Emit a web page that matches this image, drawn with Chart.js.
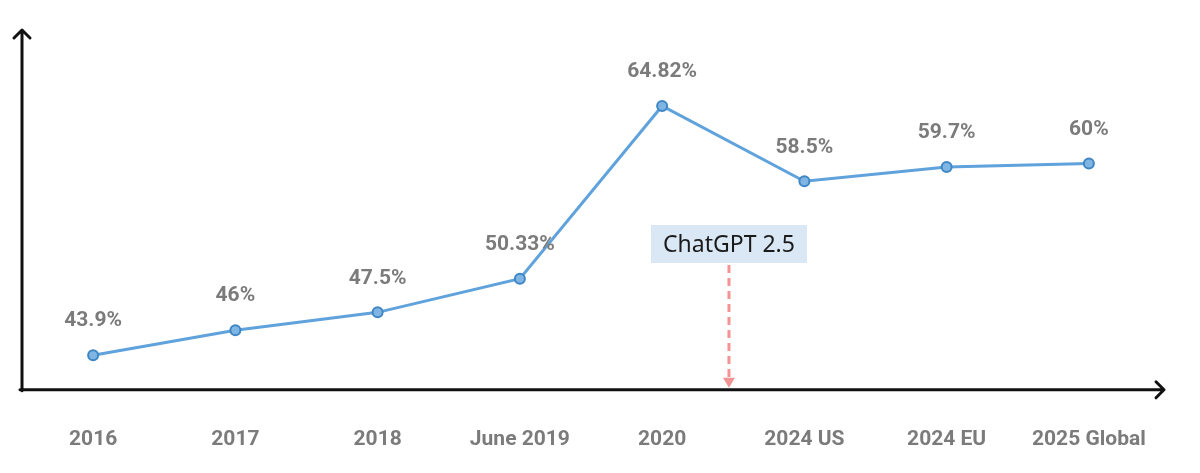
<!DOCTYPE html>
<html lang="en">
<head>
  <meta charset="UTF-8">
  <title>Rate by year</title>
  <style>
    html, body { margin: 0; padding: 0; background: #fff; }
    #wrap { width: 1200px; height: 473px; }
  </style>
</head>
<body>
  <div id="wrap"><canvas id="chartCanvas" width="1200" height="473"></canvas></div>

  <script src="https://cdn.jsdelivr.net/npm/chart.js"></script>
  <script>
    const categories = ['2016', '2017', '2018', 'June 2019', '2020', '2024 US', '2024 EU', '2025 Global'];
    const rates = [43.9, 46, 47.5, 50.33, 64.82, 58.5, 59.7, 60];
    const rateLabels = ['43.9%', '46%', '47.5%', '50.33%', '64.82%', '58.5%', '59.7%', '60%'];
    const markerText = 'ChatGPT 2.5';
    const markerPos = 4.47; // between 2020 and 2024 US

    // axes with arrows, value labels and the ChatGPT marker
    const extras = {
      id: 'extras',
      afterDatasetsDraw(chart) {
        const ctx = chart.ctx;
        const a = chart.chartArea;
        const x = chart.scales.x;
        ctx.save();

        // value labels
        ctx.font = 'bold 21px Roboto';
        ctx.fillStyle = '#7b7b7b';
        ctx.textAlign = 'center';
        ctx.textBaseline = 'middle';
        const meta = chart.getDatasetMeta(0);
        meta.data.forEach((p, i) => {
          ctx.fillText(rateLabels[i], p.x, p.y - 34);
        });

        // axes
        ctx.strokeStyle = '#111';
        ctx.lineWidth = 3;
        ctx.lineCap = 'round';
        ctx.lineJoin = 'round';
        ctx.beginPath();
        ctx.moveTo(a.left, a.bottom + 1);
        ctx.lineTo(a.left, a.top);
        ctx.moveTo(a.left - 8, a.top + 8);
        ctx.lineTo(a.left, a.top);
        ctx.lineTo(a.left + 8, a.top + 8);
        ctx.moveTo(a.left - 2, a.bottom);
        ctx.lineTo(a.right + 4, a.bottom);
        ctx.moveTo(a.right - 4, a.bottom - 8);
        ctx.lineTo(a.right + 4, a.bottom);
        ctx.lineTo(a.right - 4, a.bottom + 8);
        ctx.stroke();

        // marker
        const mx = x.getPixelForValue(markerPos);
        ctx.font = '23px "Noto Sans"';
        const bx = mx - 78, bw = 156, bh = 38;
        const by = 225;
        ctx.fillStyle = '#dae7f5';
        ctx.fillRect(bx, by, bw, bh);
        ctx.fillStyle = '#1a1a1a';
        ctx.textAlign = 'center';
        ctx.fillText(markerText, bx + bw / 2, by + bh / 2 + 1);

        ctx.strokeStyle = '#f49393';
        ctx.lineWidth = 3;
        ctx.lineCap = 'butt';
        ctx.setLineDash([8, 5]);
        ctx.beginPath();
        ctx.moveTo(mx, by + bh + 2);
        ctx.lineTo(mx, a.bottom - 10);
        ctx.stroke();
        ctx.setLineDash([]);
        ctx.fillStyle = '#f49393';
        ctx.beginPath();
        ctx.moveTo(mx - 6, a.bottom - 12);
        ctx.lineTo(mx + 6, a.bottom - 12);
        ctx.lineTo(mx, a.bottom - 2);
        ctx.closePath();
        ctx.fill();

        ctx.restore();
      }
    };

    const ctx = document.getElementById('chartCanvas').getContext('2d');
    new Chart(ctx, {
      type: 'line',
      data: {
        labels: categories,
        datasets: [{
          data: rates,
          borderColor: '#5fa2dc',
          borderWidth: 3,
          pointRadius: 5,
          pointBackgroundColor: '#7fb5e3',
          pointBorderColor: '#3f86c4',
          pointBorderWidth: 2,
          tension: 0
        }]
      },
      options: {
        responsive: false,
        animation: false,
        layout: { padding: { left: 22, right: 40, top: 30, bottom: -16 } },
        plugins: { legend: { display: false }, tooltip: { enabled: false } },
        scales: {
          x: {
            offset: true,
            grid: { display: false, drawTicks: false },
            border: { display: false },
            ticks: {
              padding: 37,
              maxRotation: 0,
              color: '#7b7b7b',
              font: { family: 'Roboto', size: 21, weight: 'bold' }
            }
          },
          y: {
            display: false,
            min: 41,
            max: 71.2
          }
        }
      },
      plugins: [extras]
    });
  </script>
</body>
</html>
